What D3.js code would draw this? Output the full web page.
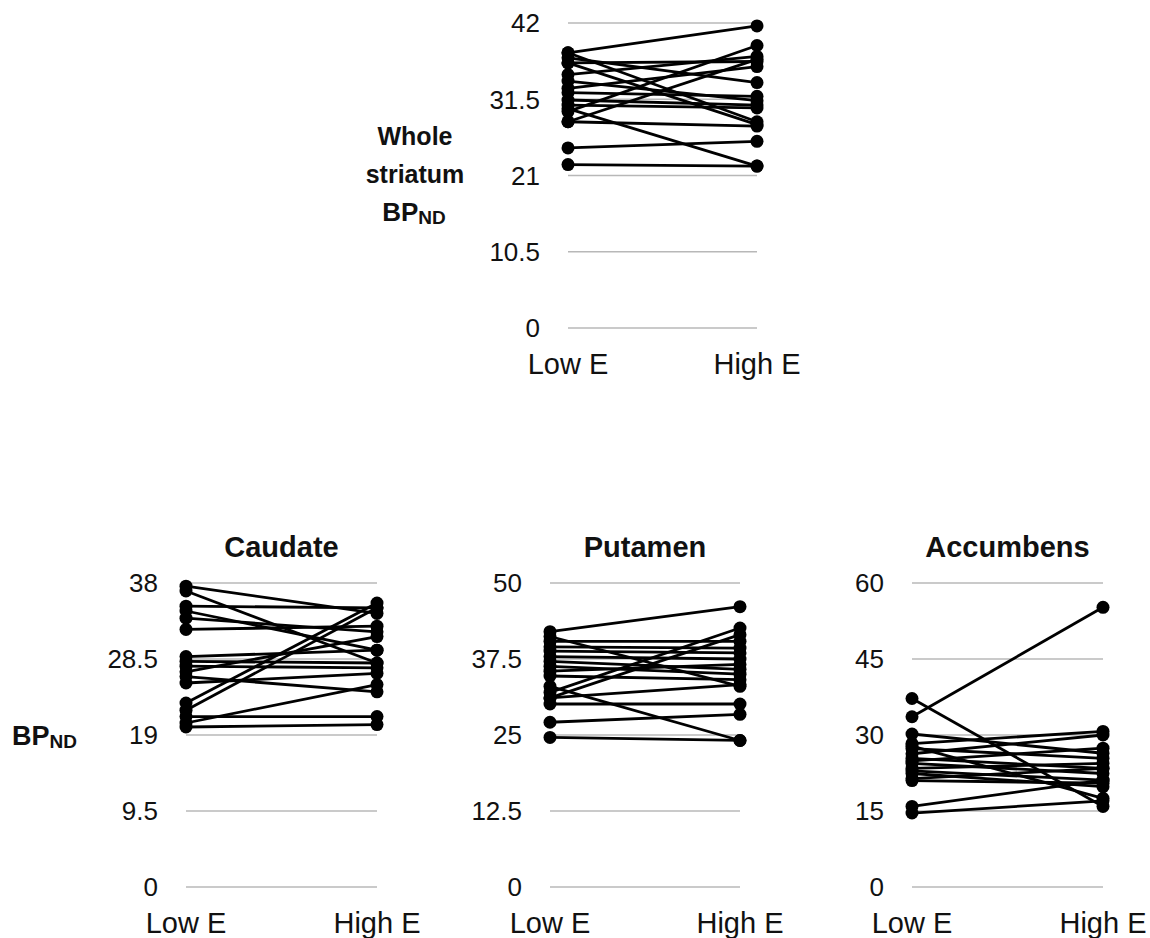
<!DOCTYPE html>
<html>
<head>
<meta charset="utf-8">
<script src="https://cdn.jsdelivr.net/npm/d3@7/dist/d3.min.js"></script>
<style>
  body { margin: 0; background: #fff; }
  text { font-family: "Liberation Sans", Arial, sans-serif; fill: #111; }
</style>
</head>
<body>
<div id="chart"></div>
<script>
// categories
const groups = ["Low E", "High E"];

// whole striatum, one entry per subject
const wholeLow  = [37.9, 37.9, 37.2, 36.5, 34.9, 34.0, 33.0, 32.4, 31.4, 30.7, 30.2, 29.8, 28.4, 28.4, 24.8, 22.5, 36.5];
const wholeHigh = [41.6, 28.4, 33.8, 36.7, 37.4, 31.3, 36.0, 31.9, 30.7, 30.3, 22.3, 38.9, 37.0, 27.8, 25.7, 22.3, 28.0];
const wholeTicks = [0, 10.5, 21, 31.5, 42];

// caudate
const caudLow  = [37.6, 37.0, 35.1, 34.5, 33.6, 32.2, 28.8, 28.2, 27.6, 26.9, 26.3, 25.5, 23.0, 22.1, 21.3, 20.5, 20.0];
const caudHigh = [34.2, 28.0, 34.9, 29.6, 31.9, 32.6, 29.6, 28.0, 27.4, 31.3, 24.4, 26.7, 35.5, 34.9, 21.3, 25.3, 20.3];
const caudTicks = [0, 9.5, 19, 28.5, 38];

// putamen
const putLow  = [42.0, 41.2, 40.4, 39.5, 38.8, 37.9, 37.1, 36.3, 35.5, 34.7, 33.0, 32.0, 31.1, 31.1, 30.1, 27.1, 24.6];
const putHigh = [46.1, 33.0, 40.4, 39.3, 38.5, 37.5, 35.8, 35.0, 36.6, 34.1, 24.1, 42.6, 41.5, 33.3, 30.1, 28.4, 24.1];
const putTicks = [0, 12.5, 25, 37.5, 50];

// accumbens
const accLow  = [37.2, 33.6, 30.2, 28.3, 27.8, 27.3, 26.3, 25.4, 24.9, 24.4, 23.4, 22.9, 22.4, 21.4, 21.0, 15.9, 14.6];
const accHigh = [15.9, 55.2, 26.4, 30.7, 17.5, 25.4, 30.0, 23.4, 27.4, 22.4, 24.4, 21.1, 19.8, 23.4, 20.5, 21.1, 17.0];
const accTicks = [0, 15, 30, 45, 60];

const width = 1150;
const height = 938;

const svg = d3.select("#chart").append("svg")
    .attr("width", width)
    .attr("height", height);

// draw one panel
function drawPanel(low, high, ticks, box, title) {
    const x = d3.scalePoint().domain(groups).range([box.x0, box.x1]);
    const y = d3.scaleLinear().domain([0, ticks[ticks.length - 1]]).range([box.yb, box.yt]);

    const g = svg.append("g");

    // gridlines
    g.selectAll(".grid")
        .data(ticks)
        .enter()
        .append("line")
        .attr("x1", box.x0)
        .attr("x2", box.x1)
        .attr("y1", d => y(d))
        .attr("y2", d => y(d))
        .attr("stroke", "#b8b8b8")
        .attr("stroke-width", 1.5);

    // tick labels
    g.selectAll(".tick")
        .data(ticks)
        .enter()
        .append("text")
        .attr("x", box.x0 - 28)
        .attr("y", d => y(d))
        .attr("dy", "0.36em")
        .attr("text-anchor", "end")
        .style("font-size", "26px")
        .text(d => d);

    // category labels
    g.selectAll(".cat")
        .data(groups)
        .enter()
        .append("text")
        .attr("x", d => x(d))
        .attr("y", box.yb + 46)
        .attr("text-anchor", "middle")
        .style("font-size", "29px")
        .text(d => d);

    const subjects = low.map((v, i) => [v, high[i]]);

    // paired lines
    g.selectAll(".pair")
        .data(subjects)
        .enter()
        .append("line")
        .attr("x1", x(groups[0]))
        .attr("x2", x(groups[1]))
        .attr("y1", d => y(d[0]))
        .attr("y2", d => y(d[1]))
        .attr("stroke", "#000")
        .attr("stroke-width", 2.8);

    // dots
    const dots = [];
    subjects.forEach(d => {
        dots.push([groups[0], d[0]]);
        dots.push([groups[1], d[1]]);
    });
    g.selectAll(".dot")
        .data(dots)
        .enter()
        .append("circle")
        .attr("cx", d => x(d[0]))
        .attr("cy", d => y(d[1]))
        .attr("r", 6.5)
        .attr("fill", "#000");

    if (title) {
        g.append("text")
            .attr("x", (box.x0 + box.x1) / 2)
            .attr("y", box.yt - 26)
            .attr("text-anchor", "middle")
            .style("font-size", "29px")
            .style("font-weight", "bold")
            .text(title);
    }
}

drawPanel(wholeLow, wholeHigh, wholeTicks, {x0: 568, x1: 757, yt: 23, yb: 328});
drawPanel(caudLow, caudHigh, caudTicks, {x0: 186, x1: 377, yt: 583, yb: 887}, "Caudate");
drawPanel(putLow, putHigh, putTicks, {x0: 550, x1: 740, yt: 583, yb: 887}, "Putamen");
drawPanel(accLow, accHigh, accTicks, {x0: 912, x1: 1103, yt: 583, yb: 887}, "Accumbens");

// y-axis titles
function bpLabel(sel) {
    sel.append("tspan").text("BP");
    sel.append("tspan")
        .attr("dy", 3)
        .style("font-size", "19px")
        .text("ND");
}

const wholeLabel = svg.append("text")
    .attr("text-anchor", "middle")
    .style("font-size", "25px")
    .style("font-weight", "bold");
wholeLabel.append("tspan").attr("x", 415).attr("y", 145).text("Whole");
wholeLabel.append("tspan").attr("x", 415).attr("y", 183).text("striatum");
svg.append("text")
    .attr("x", 414)
    .attr("y", 221)
    .attr("text-anchor", "middle")
    .style("font-size", "26px")
    .style("font-weight", "bold")
    .call(bpLabel);

svg.append("text")
    .attr("x", 12)
    .attr("y", 745)
    .style("font-size", "27px")
    .style("font-weight", "bold")
    .call(bpLabel);
</script>
</body>
</html>
